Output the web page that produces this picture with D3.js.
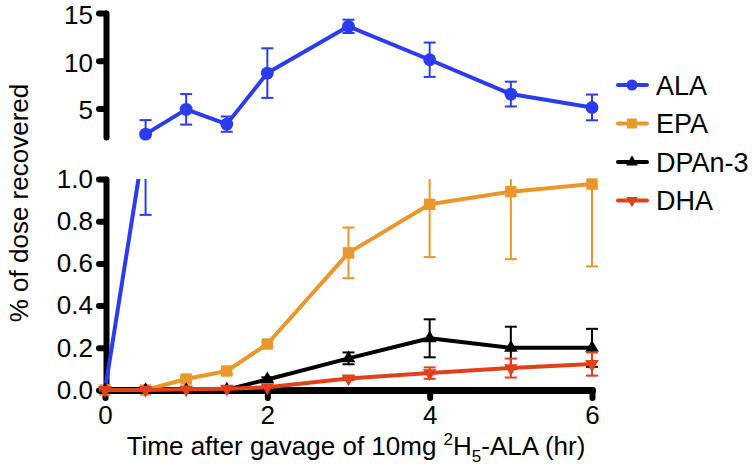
<!DOCTYPE html>
<html><head><meta charset="utf-8">
<script src="https://cdn.jsdelivr.net/npm/d3@7"></script>
<style>body{margin:0;background:#fff} text{font-family:"Liberation Sans",Arial,Helvetica,sans-serif;fill:#000}</style>
</head><body><svg id="c" width="752" height="469"></svg>
<script>
const times   = [0, 0.5, 1, 1.5, 2, 3, 4, 5, 6];
const alaMean = [0, 2.3, 4.9, 3.35, 8.7, 13.6, 10.1, 6.5, 5.1];
const alaErr  = [0, 1.47, 1.6, 0.8, 2.6, 0.7, 1.8, 1.3, 1.35];
const epaMean = [0, 0, 0.052, 0.09, 0.218, 0.65, 0.88, 0.94, 0.976];
const epaErr  = [0, 0, 0.01, 0.015, 0.01, 0.12, 0.25, 0.32, 0.39];
const dpaMean = [0, 0, 0, 0.002, 0.05, 0.15, 0.245, 0.2, 0.2];
const dpaErr  = [0, 0, 0, 0.002, 0.01, 0.028, 0.09, 0.1, 0.09];
const dhaMean = [0, 0, 0.003, 0.006, 0.013, 0.055, 0.08, 0.104, 0.123];
const dhaErr  = [0, 0, 0.002, 0.003, 0.004, 0.008, 0.027, 0.045, 0.055];
const seriesNames = ["ALA", "EPA", "DPAn-3", "DHA"];
const xTicks = [0, 2, 4, 6];
const topTicks = [5, 10, 15];
const bottomTicks = [0, 0.2, 0.4, 0.6, 0.8, 1.0];

const colors = {ALA:"#2b3cf0", EPA:"#e9962b", "DPAn-3":"#000000", DHA:"#e1401b"};
const shapes = {ALA:d3.symbolCircle, EPA:d3.symbolSquare, "DPAn-3":d3.symbolTriangle, DHA:"down"};

const svg = d3.select("#c");
const x = d3.scaleLinear().domain([0, 6]).range([105, 592]);
const yT = d3.scaleLinear().domain([2, 15]).range([137, 13]);
const yB = d3.scaleLinear().domain([0, 1]).range([390, 179]);
const axX = 106;
const FS = 26;

const defs = svg.append("defs");
defs.append("clipPath").attr("id","clipT").append("rect").attr("x",90).attr("y",0).attr("width",600).attr("height",yT(2));
defs.append("clipPath").attr("id","clipB").append("rect").attr("x",90).attr("y",yB(1)).attr("width",600).attr("height",300);

function styleAxis(g){
  g.select(".domain").attr("stroke","#000").attr("stroke-width",6).attr("stroke-linecap","round");
  g.selectAll(".tick line").attr("stroke","#000").attr("stroke-width",6).attr("stroke-linecap","round");
  g.selectAll(".tick text").attr("font-size",FS).attr("font-family","Liberation Sans, Arial, sans-serif");
}
const gT = svg.append("g").attr("transform",`translate(${axX},0)`)
  .call(d3.axisLeft(yT).tickValues(topTicks).tickSize(7).tickSizeOuter(0).tickPadding(6).tickFormat(d3.format("d")));
styleAxis(gT);
gT.selectAll(".tick text").attr("dy","0.4em");
const gB = svg.append("g").attr("transform",`translate(${axX},0)`)
  .call(d3.axisLeft(yB).tickValues(bottomTicks).tickSize(7).tickSizeOuter(0).tickPadding(6).tickFormat(d3.format(".1f")));
styleAxis(gB);
const gX = svg.append("g").attr("transform",`translate(0,${yB(0)})`)
  .call(d3.axisBottom(x).tickValues(xTicks).tickSize(8).tickSizeOuter(0).tickPadding(8).tickFormat(d3.format("d")));
styleAxis(gX);
gX.select(".domain").attr("stroke-width",7);

function sym(name, size){
  if (shapes[name] === "down") return d3.symbol(d3.symbolTriangle, size)();
  return d3.symbol(shapes[name], size)();
}
const symSize = {ALA:130, EPA:130, "DPAn-3":80, DHA:80};

function drawSeries(name, mean, err, yS, clipId, valid){
  const c = colors[name];
  const pts = times.map((t,i)=>({t, m:mean[i], e:err[i]})).filter(valid);
  const g = svg.append("g");
  const gc = g.append("g").attr("clip-path",`url(#${clipId})`);
  pts.forEach(p=>{
    if (p.e <= 0) return;
    const xp = x(p.t);
    gc.append("line").attr("x1",xp).attr("x2",xp).attr("y1",yS(p.m-p.e)).attr("y2",yS(p.m+p.e)).attr("stroke",c).attr("stroke-width",2);
    [p.m-p.e, p.m+p.e].forEach(v=>{
      gc.append("line").attr("x1",xp-6).attr("x2",xp+6).attr("y1",yS(v)).attr("y2",yS(v)).attr("stroke",c).attr("stroke-width",2);
    });
  });
  gc.append("path").datum(pts).attr("fill","none").attr("stroke",c).attr("stroke-width",4).attr("stroke-linejoin","round")
    .attr("d", d3.line().x(p=>x(p.t)).y(p=>yS(p.m)));
  pts.forEach(p=>{
    if (p.m < yS.domain()[0] || p.m > yS.domain()[1]+0.001) return;
    g.append("path").attr("d",sym(name, symSize[name]))
      .attr("transform",`translate(${x(p.t)},${yS(p.m)})${shapes[name]==="down"?" rotate(180)":""}`)
      .attr("fill",c);
  });
}

// ALA in bottom panel: segment from zero to first upper-panel point, clipped
const gAB = svg.append("g").attr("clip-path","url(#clipB)");
gAB.append("line").attr("x1",x(times[0])).attr("y1",yB(alaMean[0])).attr("x2",x(times[1])).attr("y2",yT(alaMean[1]))
  .attr("stroke",colors.ALA).attr("stroke-width",4);
times.forEach((t,i)=>{
  if (alaErr[i] <= 0) return;
  const lo = alaMean[i]-alaErr[i];
  if (lo > 1) return;
  const xp = x(t);
  gAB.append("line").attr("x1",xp).attr("x2",xp).attr("y1",yB(lo)).attr("y2",yB(1)-2).attr("stroke",colors.ALA).attr("stroke-width",2);
  gAB.append("line").attr("x1",xp-6).attr("x2",xp+6).attr("y1",yB(lo)).attr("y2",yB(lo)).attr("stroke",colors.ALA).attr("stroke-width",2);
});

drawSeries("ALA", alaMean, alaErr, yT, "clipT", p=>p.m>=2);
drawSeries("EPA", epaMean, epaErr, yB, "clipB", ()=>true);
drawSeries("DPAn-3", dpaMean, dpaErr, yB, "clipB", ()=>true);
drawSeries("DHA", dhaMean, dhaErr, yB, "clipB", ()=>true);

// legend
const lg = svg.append("g");
seriesNames.forEach((n,i)=>{
  const cy = 85 + i*38.5;
  lg.append("line").attr("x1",618).attr("x2",647).attr("y1",cy).attr("y2",cy).attr("stroke",colors[n]).attr("stroke-width",4).attr("stroke-linecap","round");
  lg.append("path").attr("d",sym(n, symSize[n]*0.75))
    .attr("transform",`translate(632,${cy})${shapes[n]==="down"?" rotate(180)":""}`).attr("fill",colors[n]);
  lg.append("text").attr("x",656).attr("y",cy+9.5).attr("font-size",27).text(n);
});

// axis titles
const tt = svg.append("text").attr("x",356).attr("y",455).attr("text-anchor","middle").attr("font-size",FS);
tt.append("tspan").text("Time after gavage of 10mg ");
tt.append("tspan").attr("font-size",17).attr("dy",-10).text("2");
tt.append("tspan").attr("dy",10).text("H");
tt.append("tspan").attr("font-size",17).attr("dy",7).text("5");
tt.append("tspan").attr("dy",-7).text("-ALA (hr)");

svg.append("text").attr("transform","translate(28,203) rotate(-90)").attr("text-anchor","middle").attr("font-size",FS)
  .text("% of dose recovered");
</script></body></html>
